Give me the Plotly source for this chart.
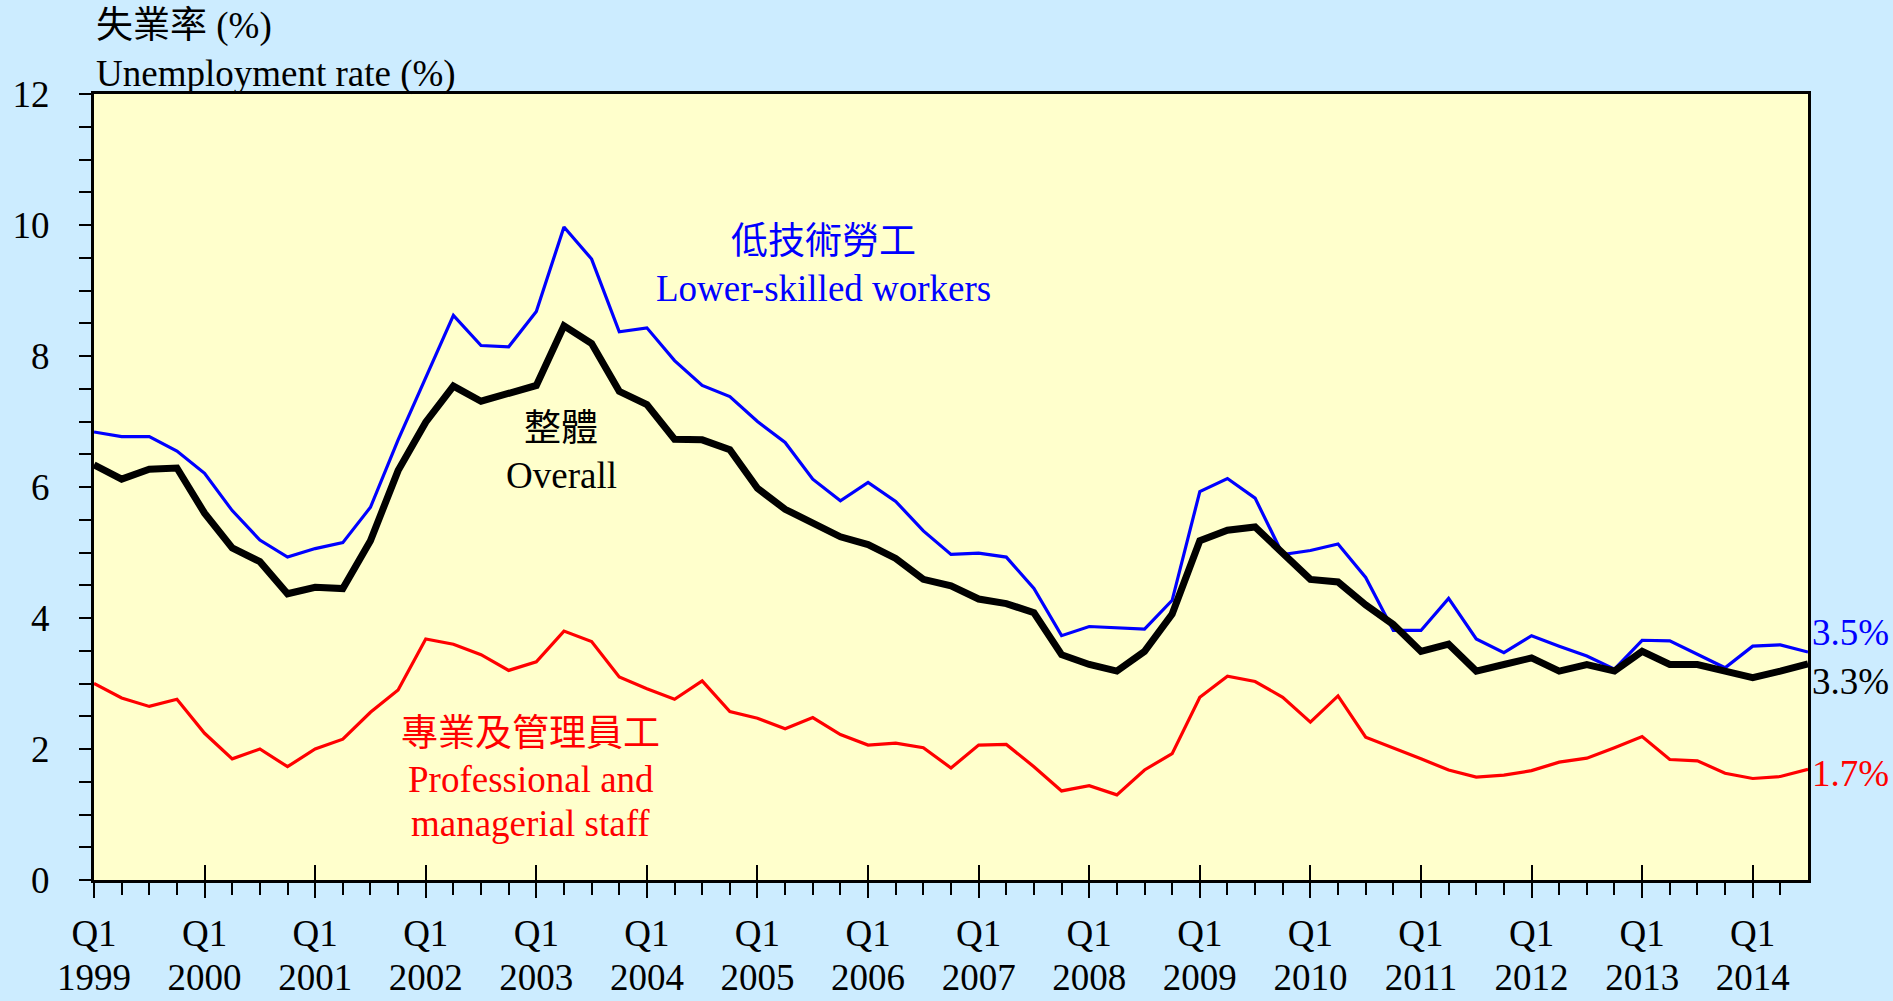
import plotly.graph_objects as go

years = list(range(1999, 2015))

# quarterly rates, 1999 Q1 .. 2014 Q3
overall = [6.34, 6.12, 6.27, 6.29,
           5.60, 5.07, 4.86, 4.37,
           4.47, 4.45, 5.18, 6.25,
           6.99, 7.54, 7.31, 7.42,
           7.55, 8.46, 8.19, 7.46,
           7.26, 6.73, 6.72, 6.57,
           5.98, 5.66, 5.45, 5.24,
           5.12, 4.91, 4.59, 4.49,
           4.29, 4.22, 4.08, 3.44,
           3.29, 3.19, 3.49, 4.06,
           5.18, 5.34, 5.39, 4.99,
           4.59, 4.55, 4.20, 3.90,
           3.49, 3.60, 3.19, 3.29,
           3.39, 3.19, 3.29, 3.19,
           3.49, 3.29, 3.29, 3.19,
           3.09, 3.19, 3.30]

lower_skilled = [6.84, 6.77, 6.77, 6.55,
                 6.21, 5.64, 5.19, 4.93,
                 5.06, 5.15, 5.69, 6.72,
                 7.67, 8.62, 8.16, 8.14,
                 8.68, 9.97, 9.48, 8.37,
                 8.43, 7.93, 7.55, 7.38,
                 7.00, 6.68, 6.12, 5.79,
                 6.07, 5.78, 5.33, 4.97,
                 4.99, 4.93, 4.45, 3.73,
                 3.87, 3.85, 3.83, 4.27,
                 5.93, 6.13, 5.83, 4.97,
                 5.03, 5.13, 4.62, 3.81,
                 3.81, 4.30, 3.68, 3.47,
                 3.73, 3.57, 3.42, 3.22,
                 3.66, 3.65, 3.45, 3.24,
                 3.57, 3.59, 3.48]

professional = [3.00, 2.78, 2.65, 2.76,
                2.24, 1.85, 2.00, 1.73,
                2.00, 2.15, 2.56, 2.90,
                3.68, 3.60, 3.44, 3.20,
                3.33, 3.80, 3.64, 3.10,
                2.92, 2.76, 3.04, 2.57,
                2.47, 2.31, 2.48, 2.22,
                2.06, 2.09, 2.02, 1.71,
                2.06, 2.07, 1.73, 1.36,
                1.44, 1.30, 1.68, 1.93,
                2.79, 3.11, 3.03, 2.79,
                2.41, 2.81, 2.18, 2.02,
                1.85, 1.68, 1.57, 1.60,
                1.67, 1.80, 1.86, 2.02,
                2.19, 1.84, 1.82, 1.63,
                1.55, 1.58, 1.69]

end_labels = ["3.5%", "3.3%", "1.7%"]

x = list(range(len(overall)))
last = x[-1]
q1_pos = [4 * i for i in range(len(years))]
q_text = ["Q1"] * len(years)
year_text = [str(y) for y in years]

FONT = "Liberation Serif, 'Times New Roman', 'Noto Sans CJK TC', serif"
FS = 37
BLUE = "#0000FF"
RED = "#FF0000"
BLACK = "#000000"

fig = go.Figure()
fig.add_trace(go.Scatter(x=x, y=professional, mode="lines", xaxis="x2",
                         line=dict(color=RED, width=3.2), showlegend=False))
fig.add_trace(go.Scatter(x=x, y=lower_skilled, mode="lines",
                         line=dict(color=BLUE, width=3.2), showlegend=False))
fig.add_trace(go.Scatter(x=x, y=overall, mode="lines",
                         line=dict(color=BLACK, width=7), showlegend=False))

# text labels in the plot
notes = [
    (26.4, 9.75, "低技術勞工", BLUE),
    (26.4, 9.03, "Lower-skilled workers", BLUE),
    (16.9, 6.9, "整體", BLACK),
    (16.9, 6.18, "Overall", BLACK),
    (15.8, 2.23, "專業及管理員工", RED),
    (15.8, 1.53, "Professional and", RED),
    (15.8, 0.86, "managerial staff", RED),
]
for nx, ny, t, c in notes:
    fig.add_annotation(x=nx, y=ny, text=t, showarrow=False,
                       font=dict(family=FONT, size=FS, color=c))

for series, lab, c, dy in [(lower_skilled, end_labels[0], BLUE, 20),
                           (overall, end_labels[1], BLACK, -18),
                           (professional, end_labels[2], RED, -4)]:
    fig.add_annotation(x=last, y=series[-1], text=lab, showarrow=False,
                       xanchor="left", xshift=2, yshift=dy,
                       font=dict(family=FONT, size=FS, color=c))

fig.add_annotation(xref="paper", yref="paper", x=0, y=1.0, yshift=68,
                   xanchor="left", yanchor="middle", text="失業率 (%)",
                   showarrow=False, font=dict(family=FONT, size=FS, color=BLACK))
fig.add_annotation(xref="paper", yref="paper", x=0, y=1.0, yshift=20,
                   xanchor="left", yanchor="middle", text="Unemployment rate (%)",
                   showarrow=False, font=dict(family=FONT, size=FS, color=BLACK))

fig.update_layout(
    width=1893, height=1001,
    margin=dict(l=94, r=85, t=94, b=121),
    paper_bgcolor="#CCECFF",
    plot_bgcolor="#FFFFCC",
    font=dict(family=FONT, size=FS, color=BLACK),
    xaxis=dict(range=[0, last], tickvals=q1_pos, ticktext=year_text,
               ticks="inside", ticklen=15, tickwidth=2, tickcolor=BLACK,
               minor=dict(dtick=1, tick0=0, ticks="outside", ticklen=12,
                          tickwidth=2, tickcolor=BLACK),
               showgrid=False, zeroline=False, showline=True, linewidth=3,
               linecolor=BLACK, mirror=True, ticklabelstandoff=63,
               automargin=False, tickfont=dict(family=FONT, size=FS)),
    xaxis2=dict(range=[0, last], overlaying="x", anchor="y", side="bottom",
                tickvals=q1_pos, ticktext=q_text, ticks="outside",
                ticklen=17, tickwidth=2, tickcolor=BLACK, showgrid=False,
                zeroline=False, showline=False, ticklabelstandoff=4,
                automargin=False, tickfont=dict(family=FONT, size=FS)),
    yaxis=dict(range=[0, 12], tickvals=[0, 2, 4, 6, 8, 10, 12],
               ticks="outside", ticklen=12, tickwidth=2, tickcolor=BLACK,
               minor=dict(dtick=0.5, tick0=0, ticks="outside", ticklen=12,
                          tickwidth=2, tickcolor=BLACK),
               showgrid=False, zeroline=False, showline=True, linewidth=3,
               linecolor=BLACK, mirror=True, ticklabelstandoff=22,
               automargin=False, tickfont=dict(family=FONT, size=FS)),
)

fig.write_html("out.html", config={"displayModeBar": False},
               post_script="document.body.style.margin='0';")
